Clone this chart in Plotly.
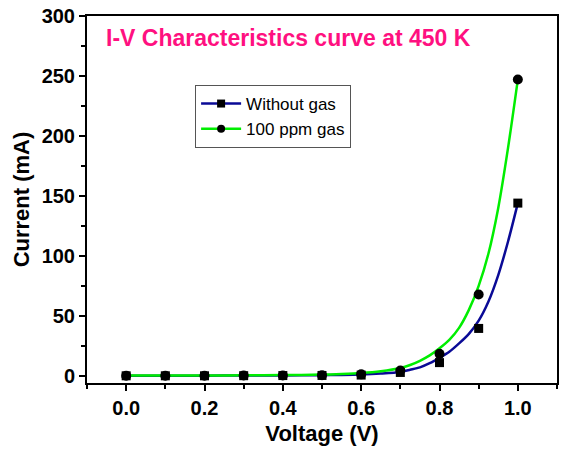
import plotly.graph_objects as go

# Measured points
voltage = [0.0, 0.1, 0.2, 0.3, 0.4, 0.5, 0.6, 0.7, 0.8, 0.9, 1.0]
current_without = [0.0, 0.0, 0.0, 0.1, 0.2, 0.3, 0.6, 2.8, 11.0, 39.5, 144.0]
current_100ppm = [0.0, 0.0, 0.0, 0.2, 0.3, 0.5, 1.2, 4.4, 18.3, 67.8, 247.0]

# Fitted curves
fit_v = [0.0, 0.1, 0.2, 0.3, 0.4, 0.5, 0.55, 0.6, 0.65, 0.7, 0.725, 0.75, 0.775, 0.8, 0.825,
         0.85, 0.875, 0.9, 0.925, 0.95, 0.975, 1.0]
fit_without = [0.1, 0.1, 0.1, 0.2, 0.3, 0.5, 0.7, 1.1, 1.9, 3.2, 5.0, 7.0, 10.5, 15.0, 20.0,
               27.0, 35.0, 46.0, 62.0, 84.0, 112.0, 144.0]
fit_100ppm = [0.2, 0.2, 0.3, 0.4, 0.6, 1.0, 1.5, 2.3, 3.8, 6.5, 9.0, 12.5, 17.0, 23.0, 30.0,
              40.0, 55.0, 75.0, 102.0, 140.0, 190.0, 247.0]

series_names = ["Without gas", "100 ppm gas"]
line_colors = ["#0a0a96", "#00ee00"]
title_text = "I-V Characteristics curve at 450 K"

fig = go.Figure()
fig.add_trace(go.Scatter(x=fit_v, y=fit_without, mode="lines",
                         line=dict(color=line_colors[0], width=2.5, shape="spline", smoothing=0.8), showlegend=False))
fig.add_trace(go.Scatter(x=fit_v, y=fit_100ppm, mode="lines",
                         line=dict(color=line_colors[1], width=2.5, shape="spline", smoothing=0.8), showlegend=False))
fig.add_trace(go.Scatter(x=voltage, y=current_without, mode="markers",
                         marker=dict(symbol="square", size=9, color="black"), showlegend=False))
fig.add_trace(go.Scatter(x=voltage, y=current_100ppm, mode="markers",
                         marker=dict(symbol="circle", size=10, color="black"), showlegend=False))
# legend entries
fig.add_trace(go.Scatter(x=[None], y=[None], mode="lines+markers", name=series_names[0],
                         line=dict(color=line_colors[0], width=2.5), marker=dict(symbol="square", size=8, color="black")))
fig.add_trace(go.Scatter(x=[None], y=[None], mode="lines+markers", name=series_names[1],
                         line=dict(color=line_colors[1], width=2.5), marker=dict(symbol="circle", size=8, color="black")))

font_family = "Liberation Sans, Arial, sans-serif"
fig.update_layout(
    template="none",
    width=562, height=450,
    margin=dict(l=87, r=5, t=16, b=67),
    paper_bgcolor="white", plot_bgcolor="white",
    font=dict(family=font_family, color="black"),
    legend=dict(x=0.23, y=0.812, xanchor="left", yanchor="top",
                bgcolor="white", bordercolor="#555555", borderwidth=1,
                font=dict(size=17, color="black"), tracegroupgap=0,
                itemwidth=40),
    annotations=[dict(text="<b>" + title_text + "</b>", x=0.036, y=0.94, xref="paper", yref="paper",
                      xanchor="left", yanchor="middle", showarrow=False,
                      font=dict(size=23, color="#ff1080", family=font_family))],
)
fig.update_xaxes(range=[-0.1, 1.1], dtick=0.2, tick0=0, tickformat=".1f", automargin=False,
                 showgrid=False, zeroline=False, showline=True, linecolor="black", linewidth=2, mirror=True,
                 ticks="outside", ticklen=6, tickwidth=2, tickcolor="black", ticklabeloverflow="allow",
                 minor=dict(dtick=0.1, tick0=0, ticks="outside", ticklen=4, tickwidth=2, tickcolor="black", showgrid=False),
                 tickfont=dict(size=20, family=font_family, color="black", weight="bold"),
                 title=dict(text="<b>Voltage (V)</b>", font=dict(size=22, family=font_family), standoff=8))
fig.update_yaxes(range=[-6, 300], dtick=50, tick0=0, automargin=False,
                 showgrid=False, zeroline=False, showline=True, linecolor="black", linewidth=2, mirror=True,
                 ticks="outside", ticklen=6, tickwidth=2, tickcolor="black", ticklabeloverflow="allow",
                 minor=dict(dtick=25, tick0=0, ticks="outside", ticklen=4, tickwidth=2, tickcolor="black", showgrid=False),
                 tickfont=dict(size=20, family=font_family, color="black", weight="bold"),
                 title=dict(text="<b>Current (mA)</b>", font=dict(size=22, family=font_family), standoff=6))

# remove the page's default body margin so the figure sits at the window's corner
fig.write_html("out.html", config={"displayModeBar": False},
               post_script="document.body.style.margin='0px';")
